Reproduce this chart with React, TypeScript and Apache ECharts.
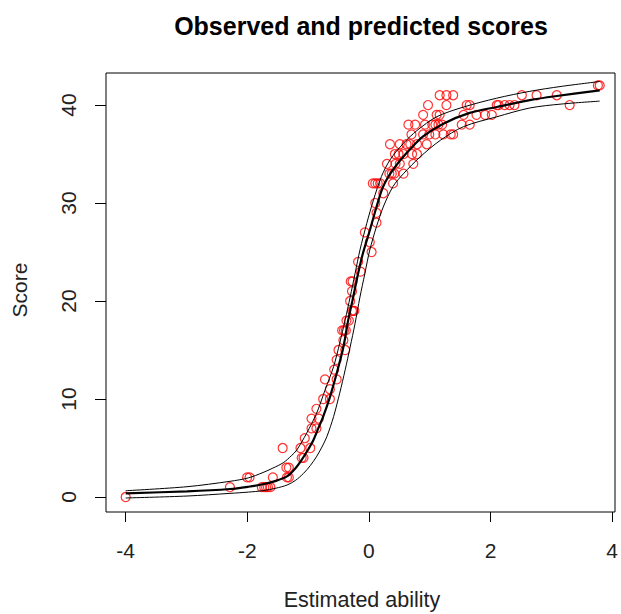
import React, { useEffect, useRef } from "react";
import * as echarts from "echarts";

// Tick labels
const xTicks = [-4, -2, 0, 2, 4];
const yTicks = [0, 10, 20, 30, 40];

// Expected score curve (thick)
const expectedCurve: number[][] = [
  [-4.0, 0.38], [-3.0, 0.58], [-2.3, 0.82], [-2.0, 1.05], [-1.76, 1.3], [-1.55, 1.65],
  [-1.37, 2.1], [-1.25, 2.8], [-1.13, 3.8], [-1.03, 4.8], [-0.94, 5.8], [-0.86, 7.0],
  [-0.78, 8.2], [-0.67, 10.2], [-0.56, 12.6], [-0.45, 15.3], [-0.37, 18.1], [-0.29, 20.4],
  [-0.21, 22.8], [-0.13, 24.9], [-0.02, 27.2], [0.09, 29.6], [0.2, 31.7], [0.36, 33.4],
  [0.58, 35.1], [0.85, 36.8], [1.18, 38.1], [1.61, 39.2], [2.05, 39.8], [2.59, 40.5],
  [3.0, 40.9], [3.73, 41.5],
];

// Upper band (thin)
const upperCurve: number[][] = [
  [-4.0, 0.64], [-3.0, 1.05], [-2.3, 1.6], [-2.0, 1.95], [-1.76, 2.5], [-1.6, 2.95],
  [-1.43, 3.5], [-1.3, 4.2], [-1.21, 4.8], [-1.05, 6.5], [-0.89, 8.5], [-0.75, 10.9],
  [-0.61, 13.3], [-0.51, 15.7], [-0.42, 18.1], [-0.34, 20.4], [-0.26, 22.8], [-0.18, 25.2],
  [-0.07, 27.9], [0.04, 30.3], [0.17, 32.7], [0.31, 34.4], [0.53, 36.1], [0.75, 37.4],
  [1.07, 38.8], [1.51, 39.8], [2.05, 40.7], [2.59, 41.4], [3.1, 41.9], [3.73, 42.4],
];

// Lower band (thin)
const lowerCurve: number[][] = [
  [-4.0, -0.1], [-3.0, 0.1], [-2.3, 0.37], [-2.0, 0.5], [-1.76, 0.65], [-1.55, 0.9],
  [-1.37, 1.22], [-1.23, 1.7], [-1.1, 2.41], [-0.99, 3.2], [-0.89, 4.1], [-0.8, 5.1],
  [-0.72, 6.15], [-0.61, 8.2], [-0.51, 10.6], [-0.42, 13.0], [-0.34, 15.3], [-0.26, 17.7],
  [-0.18, 20.4], [-0.1, 22.8], [-0.02, 25.2], [0.09, 27.6], [0.2, 29.6], [0.36, 31.7],
  [0.53, 33.0], [0.8, 34.7], [1.13, 36.4], [1.51, 37.8], [2.05, 38.8], [2.59, 39.7],
  [3.1, 40.1], [3.73, 40.4],
];

// Observed scores
const abilityObs = [
  -4.0, -2.3, -2.02, -1.98, -1.78, -1.74, -1.71, -1.68, -1.64, -1.6, -1.44, -1.38, -1.34,
  -1.37, -1.34, -1.13, -1.1, -1.15, -0.99, -1.08, -0.97, -0.89, -0.97, -0.85, -0.89,
  -0.67, -0.78, -0.67, -0.75, -0.56, -0.6, -0.56, -0.53, -0.42, -0.45, -0.47, -0.44,
  -0.41, -0.4, -0.36, -0.34, -0.31, -0.29, -0.27, -0.31, -0.33, -0.3, -0.21, -0.17,
  0.01, -0.02, -0.1, 0.09, 0.09, 0.07, 0.2,
  0.03, 0.07, 0.11, 0.15, 0.36,
  0.3, 0.34, 0.38, 0.53,
  0.26, 0.47, 0.69, 0.4,
  0.39, 0.53, 0.67, 0.75, 0.45,
  0.31, 0.47, 0.58, 0.75, 0.91, 0.64,
  0.66, 0.85, 0.95, 1.05, 1.18, 1.34, 1.3,
  0.61, 0.72, 0.88, 1.05, 1.1, 1.16, 1.48, 1.61, 1.0,
  0.85, 1.07, 1.12, 1.51, 1.72, 1.86, 1.97,
  0.93, 1.23, 1.56, 2.05, 2.08, 2.18, 2.26, 2.34, 3.24, 1.61,
  1.12, 1.23, 1.34, 2.46, 2.7, 3.03,
  3.7, 3.73,
];
const scoreObs = [
  0, 1, 2, 2, 1, 1, 1, 1, 1, 2, 5, 3, 3,
  2, 2, 4, 4, 5, 5, 6, 7, 7, 8, 8, 9,
  10, 10, 11, 12, 12, 13, 14, 15, 15, 16, 17, 17,
  17, 18, 18, 20, 19, 19, 19, 21, 22, 22, 24, 23,
  25, 26, 27, 28, 29, 30, 31,
  32, 32, 32, 32, 32,
  33, 33, 33, 33,
  34, 34, 34, 34,
  35, 35, 35, 35, 35,
  36, 36, 36, 36, 36, 36,
  37, 37, 37, 37, 37, 37, 37,
  38, 38, 38, 38, 38, 38, 38, 38, 38,
  39, 39, 39, 39, 39, 39, 39,
  40, 40, 40, 40, 40, 40, 40, 40, 40, 40,
  41, 41, 41, 41, 41, 41,
  42, 42,
];

const FONT = '"Liberation Sans", Arial, sans-serif';

export default function App() {
  const ref = useRef<HTMLDivElement>(null);

  useEffect(() => {
    if (!ref.current) return;
    const chart = echarts.init(ref.current, undefined, { renderer: "svg" });
    const obs = abilityObs.map((x, i) => [x, scoreObs[i]]);

    chart.setOption({
      animation: false,
      backgroundColor: "#ffffff",
      grid: [
        { left: 106, top: 73, width: 509, height: 439, show: true, borderColor: "#000", borderWidth: 1, backgroundColor: "transparent" },
        { left: 125.7, top: 73, width: 490.5, height: 439 },
        { left: 106, top: 105, width: 509, height: 392 },
      ],
      xAxis: [
        { type: "value", gridIndex: 0, min: -4.321, max: 3.979, show: false },
        {
          type: "value", gridIndex: 1, min: -4, max: 4, interval: 2, position: "bottom",
          axisLine: { show: false },
          axisTick: { show: true, length: 10, lineStyle: { color: "#000", width: 1 } },
          axisLabel: { fontSize: 21, color: "#222", fontFamily: FONT, margin: 28,
            formatter: (v: number) => (xTicks.includes(v) ? String(v) : "") },
          splitLine: { show: false },
        },
        { type: "value", gridIndex: 2, min: 0, max: 1, show: false },
      ],
      yAxis: [
        { type: "value", gridIndex: 0, min: -1.53, max: 43.27, show: false },
        { type: "value", gridIndex: 1, min: 0, max: 1, show: false },
        {
          type: "value", gridIndex: 2, min: 0, max: 40, interval: 10, position: "left",
          axisLine: { show: false },
          axisTick: { show: true, length: 11, lineStyle: { color: "#000", width: 1 } },
          axisLabel: { fontSize: 21, color: "#222", fontFamily: FONT, margin: 27, rotate: 90,
            formatter: (v: number) => (yTicks.includes(v) ? String(v) : "") },
          splitLine: { show: false },
        },
      ],
      series: [
        {
          type: "scatter", xAxisIndex: 0, yAxisIndex: 0, data: obs, symbol: "circle", symbolSize: 9,
          itemStyle: { color: "rgba(0,0,0,0)", borderColor: "#ff0000", borderWidth: 1.2 }, z: 1,
        },
        {
          type: "line", xAxisIndex: 0, yAxisIndex: 0, data: upperCurve, showSymbol: false, smooth: 0.3,
          lineStyle: { color: "#000", width: 1 }, z: 2,
        },
        {
          type: "line", xAxisIndex: 0, yAxisIndex: 0, data: lowerCurve, showSymbol: false, smooth: 0.3,
          lineStyle: { color: "#000", width: 1 }, z: 2,
        },
        {
          type: "line", xAxisIndex: 0, yAxisIndex: 0, data: expectedCurve, showSymbol: false, smooth: 0.3,
          lineStyle: { color: "#000", width: 2.2 }, z: 3,
        },
      ],
      graphic: [
        { type: "text", x: 361, y: 26, style: { text: "Observed and predicted scores", font: `bold 25px ${FONT}`, fill: "#000", align: "center", verticalAlign: "middle" } },
        { type: "text", x: 362, y: 600, style: { text: "Estimated ability", font: `21.5px ${FONT}`, fill: "#222", align: "center", verticalAlign: "middle" } },
        { type: "text", x: 19, y: 290, rotation: Math.PI / 2, style: { text: "Score", font: `21px ${FONT}`, fill: "#222", align: "center", verticalAlign: "middle" } },
      ],
    });
    return () => chart.dispose();
  }, []);

  return (
    <div
      ref={ref}
      style={{ position: "fixed", left: 0, top: 0, width: 621, height: 614, background: "#fff" }}
    />
  );
}
